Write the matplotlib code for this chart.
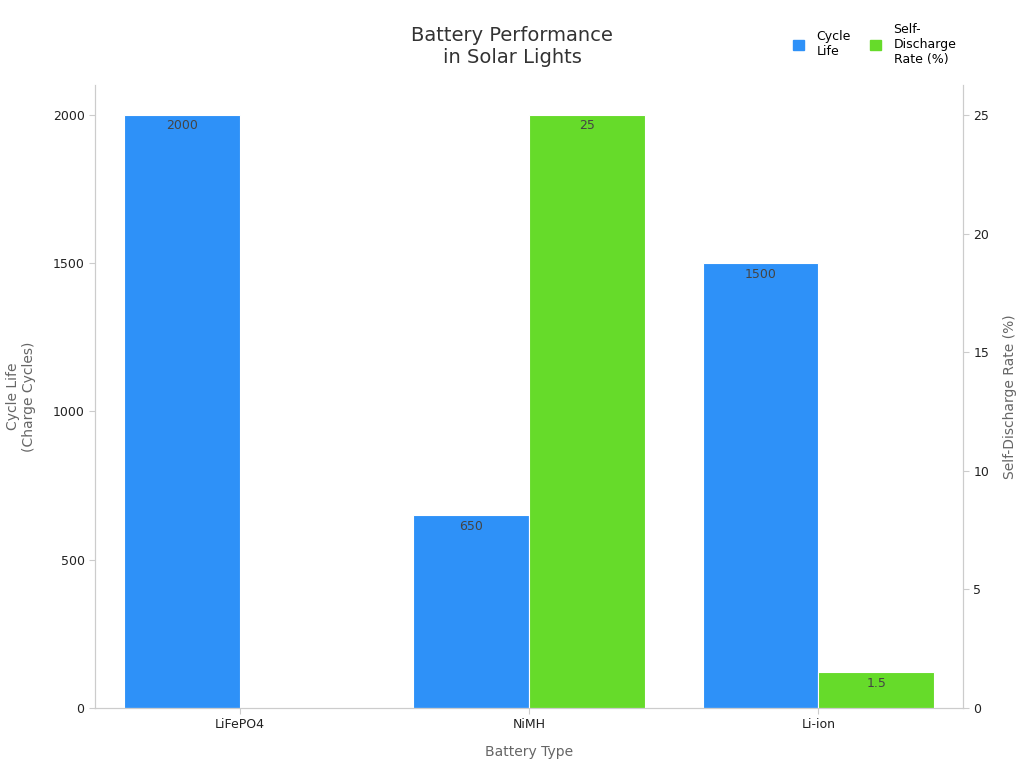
import numpy as np
import matplotlib
matplotlib.use("Agg")
import matplotlib.pyplot as plt
from matplotlib.patches import Patch

types = ["LiFePO4", "NiMH", "Li-ion"]
cycle_life = [2000, 650, 1500]
self_discharge = [0, 25, 1.5]
sd_labels = ["", "25", "1.5"]

blue = "#2E91F8"
green = "#66DB2A"
spine_c = "#cccccc"

fig = plt.figure(figsize=(10.24, 7.68), dpi=100)
ax = fig.add_axes([95 / 1024, 60 / 768, 868 / 1024, 623 / 768])
ax2 = ax.twinx()

x = np.arange(len(types))
w = 0.4
b1 = ax.bar(x - w / 2, cycle_life, w, color=blue, edgecolor="white", linewidth=0.8)
b2 = ax2.bar(x + w / 2, self_discharge, w, color=green, edgecolor="white", linewidth=0.8)

for r, v in zip(b1, cycle_life):
    ax.text(r.get_x() + r.get_width() / 2, v - 15, str(v), ha="center", va="top",
            fontsize=9, color="#444444")
for r, v, t in zip(b2, self_discharge, sd_labels):
    if t:
        ax2.text(r.get_x() + r.get_width() / 2, v - 0.19, t, ha="center", va="top",
                 fontsize=9, color="#444444")

ax.set_xlim(-0.5, 2.5)
ax.set_ylim(0, 2101)
ax2.set_ylim(0, 26.26)
ax.set_xticks(x)
ax.set_xticklabels(types)
ax.set_yticks([0, 500, 1000, 1500, 2000])
ax2.set_yticks([0, 5, 10, 15, 20, 25])

for a in (ax, ax2):
    a.spines["top"].set_visible(False)
    for s in ("left", "right", "bottom"):
        a.spines[s].set_color(spine_c)
    a.tick_params(colors="#222222", labelsize=9, length=4)
    a.tick_params(axis="both", color=spine_c)

ax.set_xlabel("Battery Type", fontsize=10, color="#666666", labelpad=10)
ax.set_ylabel("Cycle Life\n(Charge Cycles)", fontsize=10, color="#666666", labelpad=12)
ax2.set_ylabel("Self-Discharge Rate (%)", fontsize=10, color="#666666", labelpad=10)

fig.text(0.5, 0.94, "Battery Performance\nin Solar Lights", ha="center", va="center",
         fontsize=14, color="#333333")

fig.legend([Patch(color=blue), Patch(color=green)],
           ["Cycle\nLife", "Self-\nDischarge\nRate (%)"],
           loc="upper right", bbox_to_anchor=(0.945, 0.985), ncol=2, frameon=False,
           fontsize=9, handlelength=0.9, handleheight=0.9, columnspacing=1.5,
           handletextpad=1.0)

fig.savefig("out.png", dpi=100)
